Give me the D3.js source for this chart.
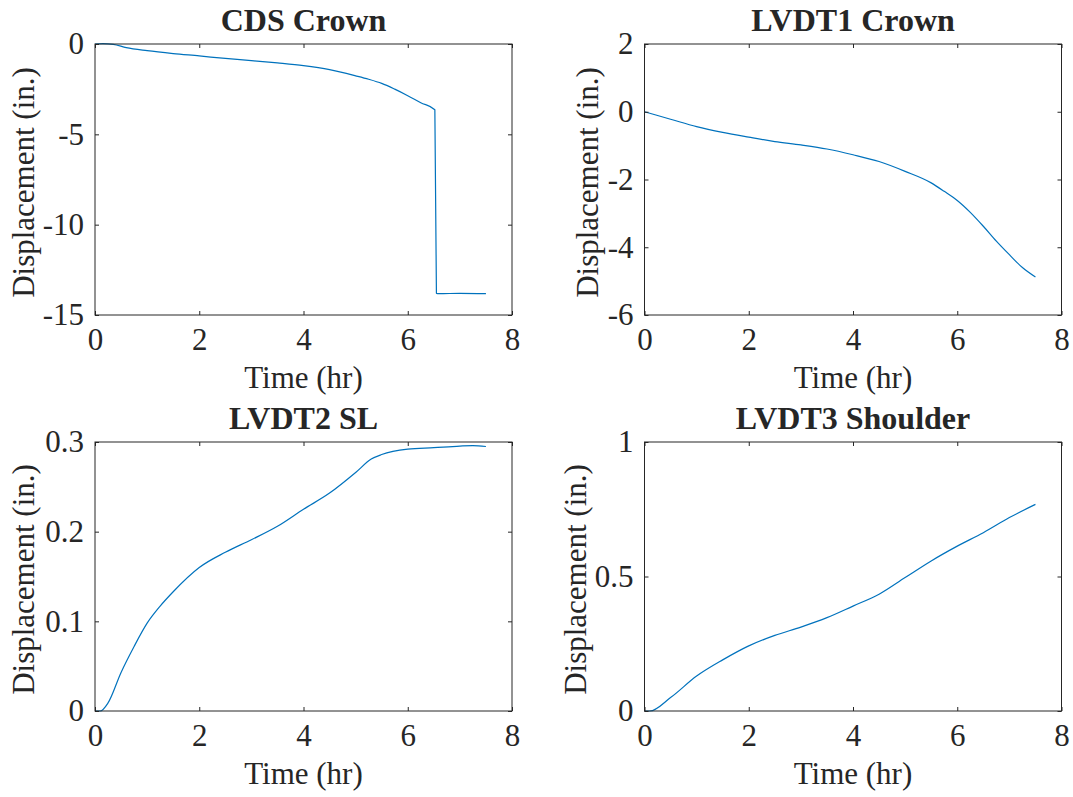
<!DOCTYPE html>
<html>
<head>
<meta charset="utf-8">
<script src="https://cdn.jsdelivr.net/npm/d3@7/dist/d3.min.js"></script>
<style>
  html, body { margin: 0; padding: 0; background: #fff; }
  svg { display: block; }
  text { font-family: "Liberation Serif", "Times New Roman", serif; fill: #262626; }
</style>
</head>
<body>
<svg id="chart" width="1073" height="797"></svg>
<script>
// Time (hr) and displacement (in.) readings for each gauge
const cdsTime  = [0, 0.15, 0.35, 0.6, 1, 1.5, 2, 2.5, 3, 3.5, 4, 4.5, 5, 5.25, 5.5, 5.75, 6, 6.25, 6.52, 6.55, 6.6, 7, 7.5];
const cdsDisp  = [0, 0.02, -0.02, -0.2, -0.37, -0.53, -0.66, -0.8, -0.92, -1.05, -1.2, -1.42, -1.76, -1.95, -2.18, -2.5, -2.86, -3.25, -3.64, -13.8, -13.82, -13.8, -13.82];

const lvdt1Time = [0, 0.5, 1, 1.5, 2, 2.5, 3, 3.5, 4, 4.5, 5, 5.5, 5.75, 6, 6.25, 6.5, 6.75, 7, 7.25, 7.5];
const lvdt1Disp = [0, -0.22, -0.44, -0.61, -0.75, -0.88, -0.98, -1.1, -1.27, -1.47, -1.76, -2.1, -2.35, -2.62, -2.97, -3.38, -3.82, -4.22, -4.6, -4.88];

const lvdt2Time = [0, 0.1, 0.25, 0.5, 0.75, 1, 1.25, 1.5, 2, 2.5, 3, 3.5, 4, 4.5, 5, 5.3, 5.5, 6, 6.5, 7, 7.25, 7.5];
const lvdt2Disp = [0, 0, 0.009, 0.043, 0.072, 0.098, 0.117, 0.133, 0.16, 0.177, 0.191, 0.206, 0.225, 0.243, 0.266, 0.281, 0.286, 0.292, 0.2937, 0.2955, 0.296, 0.295];

const lvdt3Time = [0, 0.1, 0.5, 1, 1.5, 2, 2.5, 3, 3.5, 4, 4.5, 5, 5.5, 6, 6.5, 7, 7.5];
const lvdt3Disp = [0, 0, 0.05, 0.13, 0.19, 0.242, 0.281, 0.312, 0.347, 0.39, 0.434, 0.496, 0.558, 0.613, 0.663, 0.719, 0.768];

const titles = ["CDS Crown", "LVDT1 Crown", "LVDT2 SL", "LVDT3 Shoulder"];
const xTicks = [0, 2, 4, 6, 8];
const yTicksCds = [0, -5, -10, -15];
const yTicksL1 = [2, 0, -2, -4, -6];
const yTicksL2 = [0, 0.1, 0.2, 0.3];
const yTicksL3 = [0, 0.5, 1];

const panels = [
  { title: titles[0], t: cdsTime, d: cdsDisp, yDomain: [-15, 0], yTicks: yTicksCds, box: [95, 44, 512, 315], ylabX: 34 },
  { title: titles[1], t: lvdt1Time, d: lvdt1Disp, yDomain: [-6, 2], yTicks: yTicksL1, box: [644.5, 44, 1061.5, 315], ylabX: 598 },
  { title: titles[2], t: lvdt2Time, d: lvdt2Disp, yDomain: [0, 0.3], yTicks: yTicksL2, box: [95, 442, 512, 711], ylabX: 34 },
  { title: titles[3], t: lvdt3Time, d: lvdt3Disp, yDomain: [0, 1], yTicks: yTicksL3, box: [644.5, 442, 1061.5, 711], ylabX: 586 }
];

const svg = d3.select("#chart");
const axisColor = "#262626";
const fontSize = 31;
const tickLen = 4;
// plain hyphen for negatives, as in the printed figure
const fmt = d => String(d);

panels.forEach(p => {
  const [x0, y0, x1, y1] = p.box;
  const x = d3.scaleLinear().domain([0, 8]).range([x0, x1]);
  const y = d3.scaleLinear().domain(p.yDomain).range([y1, y0]);
  const g = svg.append("g");

  // data line
  const pts = p.t.map((t, i) => [t, p.d[i]]);
  g.append("path")
    .datum(pts)
    .attr("fill", "none")
    .attr("stroke", "#0072BD")
    .attr("stroke-width", 1.2)
    .attr("stroke-linejoin", "round")
    .attr("d", d3.line().x(d => x(d[0])).y(d => y(d[1])).curve(d3.curveMonotoneX));

  // axes with inward ticks on all four sides
  const bottom = g.append("g").attr("transform", `translate(0,${y1})`)
    .call(d3.axisBottom(x).tickValues(xTicks).tickSizeInner(-tickLen).tickSizeOuter(0).tickPadding(13).tickFormat(fmt));
  const top = g.append("g").attr("transform", `translate(0,${y0})`)
    .call(d3.axisTop(x).tickValues(xTicks).tickSizeInner(-tickLen).tickSizeOuter(0).tickFormat(""));
  const left = g.append("g").attr("transform", `translate(${x0},0)`)
    .call(d3.axisLeft(y).tickValues(p.yTicks).tickSizeInner(-tickLen).tickSizeOuter(0).tickPadding(11).tickFormat(fmt));
  const right = g.append("g").attr("transform", `translate(${x1},0)`)
    .call(d3.axisRight(y).tickValues(p.yTicks).tickSizeInner(-tickLen).tickSizeOuter(0).tickFormat(""));

  [bottom, top, left, right].forEach(a => {
    a.select(".domain").remove();
    a.selectAll("line").attr("stroke", axisColor).attr("stroke-width", 1);
    a.selectAll("text")
      .attr("font-family", "Liberation Serif, Times New Roman, serif")
      .attr("font-size", fontSize)
      .attr("fill", axisColor);
  });
  bottom.selectAll("text").attr("dy", "0.71em");

  // axes box
  g.append("rect")
    .attr("x", x0).attr("y", y0)
    .attr("width", x1 - x0).attr("height", y1 - y0)
    .attr("fill", "none").attr("stroke", axisColor).attr("stroke-width", 1);

  // title
  g.append("text")
    .attr("x", (x0 + x1) / 2).attr("y", y0 - 13)
    .attr("text-anchor", "middle")
    .attr("font-size", 32).attr("font-weight", "bold")
    .attr("fill", "#000")
    .text(p.title);

  // axis labels
  g.append("text")
    .attr("x", (x0 + x1) / 2).attr("y", y1 + 73)
    .attr("text-anchor", "middle")
    .attr("font-size", fontSize)
    .text("Time (hr)");
  g.append("text")
    .attr("transform", `translate(${p.ylabX},${(y0 + y1) / 2 + 3}) rotate(-90)`)
    .attr("text-anchor", "middle")
    .attr("font-size", fontSize)
    .text("Displacement (in.)");
});
</script>
</body>
</html>
